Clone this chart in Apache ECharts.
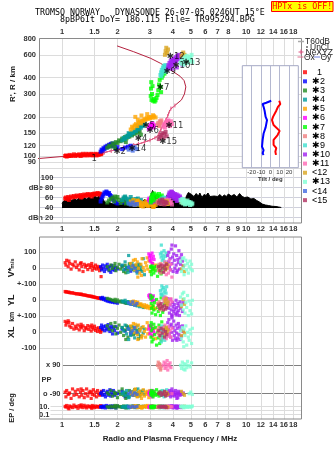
<!DOCTYPE html>
<html><head><meta charset="utf-8">
<script src="https://cdn.jsdelivr.net/npm/echarts@6/dist/echarts.min.js"></script>
<style>html,body{margin:0;padding:0;background:#fff}#c{width:335px;height:451px}</style>
</head><body><div id="c"></div>
<script>
// ---------- axis ticks ----------
const fTicks = [1,1.5,2,3,4,5,6,7,8,10,12,14,16,18];
const fLabelsMid = [1,1.5,2,3,4,5,6,7,8,9,10,12,14,16,18];
const hTicks = [80,90,100,120,150,200,300,400,600,800];
const dbTicks = [20,40,60,80,100];
const tiltTicks = [-20,-10,0,10,20];

// ---------- traces: [f MHz, R' km, dBe, V* m/s, YL km, XL km, PP deg, EP deg] ----------
const traceNames = ['1','✱2','✱3','✱4','✱5','✱6','✱7','✱8','✱9','✱10','✱11','<12','✱13','<14','<15'];
const trace1 = [
[1.04,100,58,35,55,68,-80,12],[1.05,101,60,20,52,45,-110,8],[1.06,99,57,50,53,60,-70,20],[1.08,100,61,10,50,72,-95,5],
[1.10,102,59,30,48,40,-85,15],[1.12,100,62,-5,46,30,-120,10],[1.14,101,60,25,47,55,-60,6],[1.16,103,63,15,44,20,-100,25],
[1.18,100,61,40,42,38,-75,9],[1.20,102,64,5,40,25,-95,12],[1.22,101,62,20,41,45,-65,4],[1.24,103,63,-10,38,15,-110,18],
[1.26,100,65,30,37,35,-80,8],[1.28,102,61,12,36,28,-100,14],[1.30,104,64,-20,34,40,-70,6],[1.32,101,66,25,33,10,-115,22],
[1.34,102,63,8,32,30,-90,10],[1.36,104,65,18,30,22,-60,5],[1.38,101,67,-8,28,42,-105,16],[1.40,103,64,22,27,18,-85,9],
[1.42,102,66,5,26,35,-75,12],[1.44,104,65,15,24,8,-120,7],[1.46,101,67,-12,22,30,-95,20],[1.48,103,66,10,21,20,-65,11],
[1.50,102,68,0,20,38,-100,6],[1.52,104,66,20,18,12,-80,15],[1.54,101,67,-5,16,25,-110,8],[1.56,103,69,12,15,5,-70,10],
[1.58,102,66,2,14,28,-90,13],[1.60,104,68,-15,12,15,-100,7],[1.62,103,67,8,11,0,-85,18],[1.64,105,65,-2,10,20,-75,9],
[1.09,100,55,45,51,62,-90,3],[1.27,101,60,35,39,50,-60,28],[1.45,102,62,30,25,45,-80,4],[1.63,104,64,-52,13,10,-95,12]];
const trace2 = [
[1.62,108,52,10,15,30,-90,8],[1.64,112,58,-10,10,45,-80,12],[1.66,110,62,20,18,20,-100,6],[1.68,115,66,0,5,35,-70,15],
[1.70,113,70,-20,12,10,-95,10],[1.72,118,68,15,0,40,-110,5],[1.74,116,72,-5,8,25,-85,20],[1.76,120,70,25,-5,15,-75,9],
[1.78,118,67,5,3,48,-100,12],[1.80,122,69,-15,-8,30,-90,7],[1.82,120,65,10,-2,5,-65,14],[1.84,124,63,-25,-10,22,-105,10],
[1.86,121,60,18,-4,38,-80,6],[1.88,125,58,-8,-12,-10,-95,16],[1.90,119,55,2,-6,28,-70,8],[1.93,123,52,-12,-15,12,-100,11],
[1.96,114,50,8,-10,35,-85,5],[2.00,117,48,-4,-18,-5,-90,13],[2.12,113,50,15,-8,20,-75,9],[2.20,116,52,-6,-14,8,-110,7],
[2.28,118,49,6,-16,30,-95,12],[2.36,120,51,-18,-20,-12,-80,10]];
const trace3 = [
[1.76,116,50,10,12,40,-85,10],[1.80,120,54,-10,8,20,-95,6],[1.84,118,57,20,5,55,-70,14],[1.88,125,60,0,0,10,-105,8],
[1.92,122,52,15,-3,35,-80,12],[1.96,128,58,-15,-8,-10,-90,5],[2.00,126,61,5,2,25,-115,18],[2.04,132,55,25,-10,45,-75,9],
[2.08,130,49,-5,-5,0,-95,11],[2.12,136,53,10,-12,30,-60,7],[2.16,133,57,-20,-7,-20,-100,15],[2.20,140,60,18,-15,15,-85,10],
[2.24,137,50,2,-18,40,-90,6],[2.28,143,54,-12,-10,-30,-110,13],[2.32,141,47,28,-20,20,-70,8],[2.36,147,52,8,-14,5,-95,12],
[2.40,144,56,-8,-25,35,-80,9],[2.44,150,48,14,-18,-15,-100,16],[2.48,148,45,-3,-22,25,-65,7],[2.52,154,50,20,-28,-5,-90,11],
[2.56,151,46,-16,-24,10,-105,6],[2.60,157,49,6,-30,-40,-85,14],[2.64,155,52,24,-26,18,-95,10],[2.68,146,47,-10,-32,-25,-75,8],
[1.94,115,62,30,6,60,-90,20],[2.22,128,48,-28,-16,-45,-120,5]];
const trace4 = [
[2.12,132,55,20,-5,30,-90,9],[2.16,138,60,-10,-10,10,-80,12],[2.20,135,62,40,0,45,-100,6],[2.24,142,58,5,-15,-10,-70,15],
[2.28,140,52,-25,-8,20,-95,8],[2.32,148,56,15,-20,35,-110,11],[2.36,145,61,-5,-12,-20,-85,7],[2.40,152,54,30,-25,5,-90,14],
[2.44,150,48,0,-18,25,-75,10],[2.48,158,53,-15,-30,-35,-100,6],[2.52,155,57,10,-22,15,-65,12],[2.56,163,50,-30,-35,40,-95,9],
[2.60,160,46,25,-28,-15,-85,16],[2.64,168,51,-8,-40,10,-105,7],[2.68,165,55,12,-32,-25,-80,11],[2.72,172,47,-20,-38,30,-90,8],
[2.76,170,49,60,-45,-5,-70,13],[2.80,176,45,-40,-42,20,-95,10],[2.30,150,50,80,-20,-45,-115,5],[2.58,172,58,-2,-26,0,-60,18]];
const trace5 = [
[2.36,160,52,30,-10,40,-90,10],[2.40,168,48,10,-20,20,-80,7],[2.44,164,55,50,-5,55,-100,14],[2.48,172,45,-10,-25,0,-70,9],
[2.52,176,50,20,-18,30,-95,12],[2.56,170,53,40,-12,-15,-110,6],[2.60,180,46,0,-30,45,-85,15],[2.64,184,51,-30,-26,10,-75,8],
[2.68,178,44,25,-22,25,-100,11],[2.72,188,49,60,-35,-20,-90,5],[2.76,185,42,5,-40,35,-65,13],[2.80,192,47,-15,-28,5,-105,9],
[2.84,190,52,35,-45,-30,-80,16],[2.88,196,45,15,-32,20,-95,7],[2.92,193,43,-5,-48,-10,-85,12],[2.96,199,48,45,-38,40,-115,10],
[3.00,195,44,-20,-52,-5,-70,6],[3.04,200,50,10,-42,15,-90,14],[3.10,197,46,30,-46,-25,-100,9],[3.16,202,42,-8,-55,25,-80,11],
[3.22,198,45,20,-50,-40,-95,8],[2.50,200,47,55,-8,50,-60,18],[2.70,205,43,-45,-30,-35,-120,5],[2.90,210,50,65,-40,60,-75,20],
[2.58,190,54,-55,-15,-45,-105,7],[3.12,206,41,0,-36,8,-88,12]];
const trace6 = [
[2.96,162,55,90,30,20,-85,8],[2.98,168,58,70,20,40,-95,12],[3.00,165,52,50,35,-10,-75,6],[3.02,172,57,80,10,30,-100,15],
[3.04,170,50,40,25,5,-90,9],[3.06,176,54,60,5,45,-80,11],[3.08,174,59,95,15,-20,-110,7],[3.10,178,51,30,-5,25,-70,14],
[3.13,166,56,75,28,10,-95,10],[3.16,172,53,55,0,-5,-85,8]];
const trace7 = [
[3.03,290,50,10,30,40,-90,10],[3.04,330,55,-20,10,-30,-80,6],[3.05,370,60,5,-20,60,-100,14],[3.06,270,52,-40,-50,10,-70,8],
[3.08,300,65,15,-80,-60,-95,12],[3.10,345,58,-10,20,25,-85,9],[3.12,266,62,0,-35,-45,-110,5],[3.15,275,68,-30,-60,50,-75,15],
[3.18,262,54,8,-15,-15,-90,11],[3.22,268,66,-15,-90,30,-100,7],[3.26,280,59,12,5,-80,-65,13],[3.30,295,63,-50,-45,0,-95,10],
[3.33,320,57,-5,-70,-35,-85,8],[3.36,355,67,18,-25,45,-105,16],[3.39,385,53,-25,-55,-70,-80,6],[3.42,340,61,3,-95,20,-90,12],
[3.45,310,56,-35,15,-50,-75,9],[3.48,400,64,10,-40,65,-100,11],[3.52,415,50,-20,-75,-20,-85,7],[3.60,430,55,0,-20,35,-95,14]];
const trace8 = [
[3.30,175,50,10,-20,15,90,8],[3.33,180,53,-15,-40,-10,110,12],[3.36,170,48,25,-10,30,75,6],[3.40,185,55,0,-60,-25,95,15],
[3.43,178,51,-30,-30,5,60,9],[3.46,188,47,15,-50,-40,85,11],[3.38,172,52,-5,-25,20,100,7],[3.44,182,49,30,-45,-5,70,10]];
const trace9 = [
[3.42,420,52,90,60,20,-90,10],[3.45,440,56,70,40,-20,-80,6],[3.48,460,50,100,90,40,-100,14],[3.50,430,58,50,70,-40,-70,8],
[3.53,480,54,80,30,0,-95,12],[3.56,455,60,60,80,-10,-85,9],[3.58,495,51,110,50,30,-110,5],[3.61,470,57,40,20,-50,-75,15],
[3.64,500,53,75,65,10,-90,11],[3.67,445,59,95,45,-30,-100,7],[3.70,485,55,30,85,25,-65,13],[3.46,410,49,145,35,-60,-95,10]];
const trace10 = [
[3.75,470,58,80,10,60,-90,8],[3.78,500,62,40,-20,20,-80,12],[3.80,480,66,100,-50,80,-100,6],[3.83,520,70,10,-80,-10,-70,15],
[3.86,490,64,60,-30,40,-95,9],[3.89,540,68,-10,5,-30,-110,11],[3.92,510,72,120,-60,50,-85,7],[3.95,550,60,30,-90,0,-75,14],
[3.98,500,65,70,-15,-50,-100,10],[4.01,530,69,-20,-40,30,-90,5],[4.04,560,62,90,-70,70,-80,13],[4.07,520,57,50,-25,-20,-105,8],
[4.10,545,67,0,-55,10,-95,12],[4.13,575,63,140,-85,-40,-70,9],[4.16,535,59,20,0,45,-85,16],[4.19,560,66,80,-45,-5,-100,7],
[4.22,590,61,-15,-75,25,-90,11],[4.25,550,56,55,-20,-35,-115,6],[4.28,580,64,35,-65,55,-75,14],[4.31,600,60,110,-35,-15,-95,10],
[4.34,565,55,-5,-95,35,-85,8],[4.37,590,62,65,-10,-45,-100,12],[4.40,570,58,25,-50,15,-80,9],[4.45,520,54,85,-30,-25,-90,6],
[4.50,505,56,45,-70,40,-95,11],[3.95,470,71,145,-98,90,-60,18],[4.20,480,53,-25,-92,-50,-120,4],[4.55,540,52,15,-15,5,-85,10]];
const trace11 = [
[3.55,168,50,20,10,30,90,8],[3.58,175,54,-20,-10,-10,110,12],[3.62,165,48,40,20,45,70,6],[3.65,182,52,0,-5,0,100,15],
[3.68,178,56,-40,15,-40,80,9],[3.72,186,47,30,-20,20,120,11],[3.75,172,53,10,5,-25,60,7],[3.78,188,50,-30,-15,35,95,14],
[3.82,180,55,50,0,-15,85,10],[3.86,170,49,-10,-25,10,105,8],[3.90,185,51,25,10,-30,75,12],[3.95,176,46,-55,-8,25,-90,9]];
const trace12 = [
[3.62,600,50,10,0,20,-90,10],[3.65,640,53,-10,-20,-10,-80,8],[3.68,680,48,30,10,30,-100,12],[3.72,620,52,0,-30,0,-85,6],
[3.76,660,47,20,-10,15,-95,9],[4.45,590,51,-5,-40,-20,-75,11],[4.55,625,49,15,5,10,-90,7],[4.62,600,54,-20,-25,-5,-100,13]];
const trace13 = [
[4.40,520,55,40,20,10,90,12],[4.45,545,50,-20,-30,-40,70,8],[4.50,510,57,60,40,30,110,15],[4.55,560,48,0,-60,-60,85,10],
[4.60,530,53,-40,10,20,100,6],[4.65,575,46,20,-80,-20,60,14],[4.70,550,52,50,-15,40,95,9],[4.75,590,47,-10,-45,-80,75,11],
[4.80,520,54,30,30,0,115,7],[4.85,565,49,-30,-95,-30,90,13],[4.90,540,51,10,-5,-50,-90,10],[4.95,580,45,45,-65,15,80,8],
[5.00,555,50,-5,-25,-10,-80,12],[5.05,600,46,25,-85,-70,105,9],[5.10,530,48,-15,0,25,-95,15],[4.58,505,56,65,50,-90,65,6]];
const trace14 = [
[2.30,112,48,5,-15,20,-90,10],[2.36,115,46,-10,-25,-5,-80,7],[2.42,110,50,15,-10,10,-100,12],[2.48,117,45,0,-30,30,-85,8],
[2.55,113,47,-20,-20,0,-95,11]];
const trace15 = [
[3.35,135,50,10,-30,10,-90,9],[3.40,140,54,-15,-50,-20,-80,12],[3.45,145,48,20,-20,25,-100,7],[3.50,150,56,0,-40,-5,-85,14],
[3.55,138,52,-25,-60,15,-95,10],[3.60,148,46,15,-35,-30,-75,8],[3.65,153,51,-5,-55,5,-105,11],[3.70,142,49,25,-45,-15,-90,6]];

// profile (f, true height) and NeXYZ section
const profileFH = [[0.46,92.7],[0.75,95.7],[0.975,98.8],[1.25,100.5],[1.48,103],[1.68,106],[1.91,111],[2.26,118],[2.67,125],
[3.03,133],[3.29,141],[3.43,159],[3.58,178],[3.73,200],[3.85,226],[4.1,245],[4.45,270],[4.62,300],[4.70,340],[4.6,380],
[4.38,410],[3.89,459],[3.43,516],[3.03,564],[2.45,634],[1.99,703]];
const nexyzFH = [[1.70,106.5],[1.85,109.5],[2.0,112.5],[2.15,116],[2.3,119],[2.45,121.5],[2.6,124],[2.8,128],[3.0,132],
[3.2,138],[3.35,147],[3.45,162],[3.55,175],[3.65,188],[3.75,203],[3.9,232],[4.1,245]];

// unclassified amplitude (f, dBe)
const unclAmp = [[1.0,48],[1.02,53],[1.04,50],[1.06,56],[1.08,52],[1.1,57],[1.13,54],[1.16,58],[1.2,55],[1.24,59],[1.28,56],
[1.32,60],[1.36,57],[1.4,61],[1.45,58],[1.5,63],[1.55,60],[1.6,64],[1.65,60],[1.7,52],[1.75,48],[1.8,50],[1.9,47],[2.0,49],
[2.1,46],[2.2,50],[2.3,47],[2.4,52],[2.5,49],[2.6,54],[2.7,50],[2.8,56],[2.9,53],[3.0,60],[3.05,66],[3.1,74],[3.15,70],
[3.2,63],[3.3,67],[3.4,58],[3.5,62],[3.6,56],[3.7,64],[3.8,60],[3.9,66],[4.0,62],[4.1,68],[4.2,60],[4.3,64],[4.45,57],
[4.55,60],[4.65,55],[4.75,64],[4.85,70],[4.95,72],[5.05,66],[5.2,62],[5.35,68],[5.5,63],[5.6,69],[5.75,60],[5.9,66],
[6.05,64],[6.2,69],[6.35,62],[6.5,66],[6.7,63],[6.85,67],[7.0,62],[7.2,66],[7.4,61],[7.6,65],[7.8,62],[8.0,67],[8.3,63],
[8.6,66],[8.9,61],[9.2,68],[9.5,62],[9.8,60],[10.2,61],[10.6,57],[11.0,58],[11.4,54],[11.8,51],[12.2,47],[12.7,45],
[13.2,44],[13.8,42.5],[14.5,42],[15.0,41],[15.5,40]];

// tilt profiles (tilt deg, height km)
const tiltX = [[9.6,266],[10.7,251],[8.2,239],[6.4,223],[2.9,200],[1.8,189],[3.5,173],[10,156],[7.8,145],[3.5,133],[3.5,122],[6.4,115],[5.4,108],[6.1,102]];
const tiltY = [[1,266],[-4.3,257],[-8.2,251],[-7.2,239],[-6.1,223],[-5,200],[-3.5,189],[-5,166],[-7.2,149],[-8.2,133],[-8.9,118],[-7.2,111],[-8.2,105],[-7.2,102]];

// trace tags (f, km, text)
const traceTags = [[1.446,95.7,'1'],[1.903,108.3,'✱2'],[2.295,114.2,'✱14'],[2.483,136.8,'✱4'],[2.734,170.1,'✱5'],
[2.874,155.7,'✱6'],[3.643,170.1,'✱11'],[3.369,128.8,'✱15'],[3.268,335.2,'✱7'],[3.553,445,'✱9'],[3.978,492.4,'✱10'],
[3.704,580.5,'✱12'],[4.506,522,'✱13']];

// ---------- styling ----------
const traceColors = ['#ff0000','#0000ff','#228b22','#009c9c','#ffa500','#ff00ff','#00ff00','#f08080','#40e0d0','#a020f0','#ff69b4','#daa520','#7fffd4','#4169e1','#b03060'];
const panelSymbol = [4, 4, 3.2, 3.2, 3.2, 3.2, 3.2];
const SANS = '"Liberation Sans", Arial, sans-serif';
const MONO = '"DejaVu Sans Mono", monospace';
const FMIN = 0.75, FMAX = 20;
const GRIDC = '#dcdcdc';
const lblStyle = {fontFamily: SANS, fontSize: 7.5, fontWeight: 'bold', color: '#333'};
const fmtNum = v => String(+(+v).toPrecision(4));

const grids = [
 {left:39, top:38, width:262.7, height:137},
 {left:39, top:175, width:262.7, height:48},
 {left:39, top:237, width:262.7, height:47.3},
 {left:39, top:284.3, width:262.7, height:32},
 {left:39, top:316.3, width:262.7, height:32},
 {left:39, top:348.3, width:262.7, height:51.7},
 {left:39, top:400, width:262.7, height:19.3},
 {left:242.3, top:65.7, width:56, height:102, show:true, backgroundColor:'#fff', borderColor:'#a4a8c4', borderWidth:1, z:3}
].map(g => Object.assign({outerBoundsMode:'none', containLabel:false}, g));

function fAxis(gi, extra) {
  return Object.assign({type:'log', logBase:10, gridIndex:gi, min:FMIN, max:FMAX,
    axisLine:{show:false}, axisTick:{show:false, customValues:fTicks},
    splitLine:{show:true, lineStyle:{color:GRIDC, width:1}}, axisLabel:{show:false}}, extra || {});
}
const xAxes = [
 fAxis(0, {position:'top', axisLabel:Object.assign({show:true, customValues:fTicks, formatter:fmtNum, margin:2}, lblStyle)}),
 fAxis(1, {axisLabel:Object.assign({show:true, customValues:fLabelsMid, formatter:fmtNum, margin:2}, lblStyle)}),
 fAxis(2), fAxis(3), fAxis(4), fAxis(5),
 fAxis(6, {axisLabel:Object.assign({show:true, customValues:fTicks, formatter:fmtNum, margin:1.5}, lblStyle)}),
 {type:'value', gridIndex:7, min:-30, max:30, z:4, axisLine:{show:false},
  axisTick:{show:false, customValues:tiltTicks}, splitLine:{show:true, lineStyle:{color:'#b4b8d0'}},
  axisLabel:{customValues:tiltTicks, fontFamily:SANS, fontSize:6, color:'#333', margin:1.5},
  name:'Tilt / deg', nameLocation:'middle', nameGap:8.5, nameTextStyle:{fontFamily:SANS, fontSize:6, fontWeight:'bold', color:'#333'}}
];
function yAx(gi, extra) {
  return Object.assign({gridIndex:gi, axisLine:{show:false}, splitLine:{show:true, lineStyle:{color:GRIDC}}}, extra);
}
const yAxes = [
 yAx(0, {type:'log', min:71.45, max:808.6, axisTick:{show:false, customValues:hTicks},
   axisLabel:Object.assign({customValues:hTicks, formatter:fmtNum, margin:3}, lblStyle)}),
 yAx(1, {type:'value', min:9, max:105, axisTick:{show:false, customValues:dbTicks},
   splitLine:{show:true, lineStyle:{color:'#cfd0dc'}},
   axisLabel:Object.assign({customValues:dbTicks, margin:-14.3, align:'right',
     formatter:v => v===80?'dBe 80':(v===20?'dBn 20':String(v))}, lblStyle)}),
 yAx(2, {type:'value', min:-100, max:195.6, axisTick:{show:false, customValues:[-100,0,100]},
   axisLabel:Object.assign({customValues:[-100,0,100], margin:2.5, formatter:v => v===-100?'+-100':String(v)}, lblStyle)}),
 yAx(3, {type:'value', min:-100, max:100, axisTick:{show:false, customValues:[-100,0,100]},
   axisLabel:Object.assign({customValues:[-100,0], margin:2.5, formatter:v => v===-100?'+-100':String(v)}, lblStyle)}),
 yAx(4, {type:'value', min:-100, max:100, axisTick:{show:false, customValues:[-100,0,100]},
   axisLabel:Object.assign({customValues:[-100,0], margin:2.5, formatter:v => String(v)}, lblStyle)}),
 yAx(5, {type:'value', min:-130, max:197.7, axisTick:{show:false, customValues:[-90,90]},
   splitLine:{show:true, lineStyle:{color:'#808080'}},
   axisLabel:Object.assign({customValues:[-90,90], margin:-23, align:'right', backgroundColor:'#fff', padding:[1,1.5,1,9],
     formatter:v => v===90?'x 90':'o -90'}, lblStyle)}),
 yAx(6, {type:'log', min:0.0071, max:473, axisTick:{show:false, customValues:[0.1,1,10]},
   axisLabel:Object.assign({customValues:[0.1,10], margin:-11.5, align:'right', backgroundColor:'#fff', padding:[0,1,0,0],
     formatter:v => (+v > 1 ? '10.' : '0.1')}, lblStyle)}),
 {type:'log', gridIndex:7, min:81.28, max:495, show:false}
];

const series = [];
series.push({type:'line', name:'UnCl', xAxisIndex:1, yAxisIndex:1, data:unclAmp, symbol:'none',
  lineStyle:{color:'#000', width:1}, areaStyle:{color:'#000', opacity:1, origin:39}, z:1, silent:true});
series.push({type:'line', name:'profile', xAxisIndex:0, yAxisIndex:0, data:profileFH, symbol:'none',
  lineStyle:{color:'#b4203e', width:1}, clip:false, z:2, silent:true});
series.push({type:'line', name:'NeXYZ', xAxisIndex:0, yAxisIndex:0, data:nexyzFH, symbol:'rect', symbolSize:[1,4],
  itemStyle:{color:'#e8608c'}, lineStyle:{color:'#e8608c', width:1}, z:2, silent:true});
const traces = [trace1,trace2,trace3,trace4,trace5,trace6,trace7,trace8,trace9,trace10,trace11,trace12,trace13,trace14,trace15];
traces.forEach((rows, i) => {
  for (let p = 0; p < 7; p++) {
    series.push({type:'scatter', name:traceNames[i], xAxisIndex:p, yAxisIndex:p, symbol:'rect', symbolSize:panelSymbol[p],
      itemStyle:{color:traceColors[i]}, data:rows.map(r => [r[0], r[p+1]]), z:3, silent:true});
  }
});
series.push({type:'scatter', name:'tags', xAxisIndex:0, yAxisIndex:0, symbolSize:0, data:traceTags, z:6, silent:true,
  label:{show:true, position:'right', distance:0, formatter:p => p.data[2], color:'#000', fontFamily:'"DejaVu Sans", sans-serif', fontSize:8.5}});
series.push({type:'line', name:'Θy', xAxisIndex:7, yAxisIndex:7, data:tiltY, symbol:'none', lineStyle:{color:'#0000ff', width:2}, z:5, silent:true});
series.push({type:'line', name:'Θx', xAxisIndex:7, yAxisIndex:7, data:tiltX, symbol:'none', lineStyle:{color:'#ff0000', width:2}, z:5, silent:true});

function T(text, x, y, font, fill, align, extra) {
  return Object.assign({type:'text', x:x, y:y, z:100,
    style:{text:text, font:font, fill:fill || '#000', textAlign:align || 'left', align:align || 'left',
      textVerticalAlign:'middle', verticalAlign:'middle'}}, extra || {});
}
const B8 = 'bold 8px ' + SANS;
const graphics = [
  T('TROMSO NORWAY   DYNASONDE 26-07-05 0246UT 15°E', 35, 12.5, '8.3px ' + MONO),
  T('8pBP6It DoY= 186.115 File= TR995294.BPG', 60, 20.3, '8.3px ' + MONO),
  {type:'rect', z:100, shape:{x:271.5, y:1.5, width:61.5, height:10}, style:{fill:'#ffff00', stroke:'#ff0000', lineWidth:1}},
  T('HPTx is OFF!', 302.3, 7, '8.3px ' + MONO, '#ff0000', 'center'),
  {type:'rect', z:50, shape:{x:39.5, y:38.5, width:262, height:184.5}, style:{fill:'none', stroke:'#8a8a8a', lineWidth:1}},
  {type:'rect', z:50, shape:{x:39.5, y:237, width:262, height:182}, style:{fill:'none', stroke:'#8a8a8a', lineWidth:1}},
  T("R', R / km", 13, 84, B8, '#222', 'center', {rotation:Math.PI/2}),
  T('V*', 12, 272.5, 'bold 9px ' + SANS, '#222', 'center', {rotation:Math.PI/2}),
  T('m/s', 12, 263.5, 'bold 6px ' + SANS, '#222', 'center', {rotation:Math.PI/2}),
  T('YL', 12, 300.3, 'bold 9px ' + SANS, '#222', 'center', {rotation:Math.PI/2}),
  T('km', 12, 316.8, 'bold 7px ' + SANS, '#222', 'center', {rotation:Math.PI/2}),
  T('XL', 12, 332.3, 'bold 9px ' + SANS, '#222', 'center', {rotation:Math.PI/2}),
  T('PP', 41.5, 380, 'bold 7.5px ' + SANS, '#333'),
  T('EP / deg', 12, 408, 'bold 7.5px ' + SANS, '#222', 'center', {rotation:Math.PI/2}),
  T('Radio and Plasma Frequency / MHz', 170, 438.7, B8, '#222', 'center'),
  {type:'line', z:100, shape:{x1:298, y1:41.5, x2:304, y2:41.5}, style:{stroke:'#aaaaaa', lineWidth:1.5}},
  T('T60dB', 305, 42, '8.5px ' + SANS, '#222'),
  {type:'circle', z:100, shape:{cx:307, cy:47, r:0.8}, style:{fill:'#000'}},
  T('UnCl', 310, 47.3, '8.5px ' + SANS, '#222'),
  {type:'line', z:100, shape:{x1:298.5, y1:52, x2:303.5, y2:52}, style:{stroke:'#e05080', lineWidth:1}},
  {type:'line', z:100, shape:{x1:301, y1:49.5, x2:301, y2:54.5}, style:{stroke:'#e05080', lineWidth:1}},
  T('NeXYZ', 305.5, 52.3, '8.5px ' + SANS, '#222'),
  {type:'line', z:100, shape:{x1:297.5, y1:57, x2:303.5, y2:57}, style:{stroke:'#e07090', lineWidth:1}},
  T('Θx', 304, 57.3, '8.5px ' + SANS, '#222'),
  {type:'line', z:100, shape:{x1:314, y1:57, x2:320, y2:57}, style:{stroke:'#7080e0', lineWidth:1}},
  T('Θy', 320.5, 57.3, '8.5px ' + SANS, '#222')
];

const chart = echarts.init(document.getElementById('c'), null, {renderer:'canvas'});
chart.setOption({
  animation:false,
  backgroundColor:'#fff',
  grid:grids, xAxis:xAxes, yAxis:yAxes, series:series,
  legend:{data:traceNames, orient:'vertical', left:303, top:67.7, padding:0, itemWidth:4, itemHeight:4, itemGap:0.14,
    icon:'rect', selectedMode:false, itemStyle:{borderWidth:0},
    formatter:n => n === '1' ? '  1' : n,
    textStyle:{fontFamily:SANS, fontSize:9, lineHeight:8, color:'#000', padding:0}},
  graphic:graphics
});
</script></body></html>
